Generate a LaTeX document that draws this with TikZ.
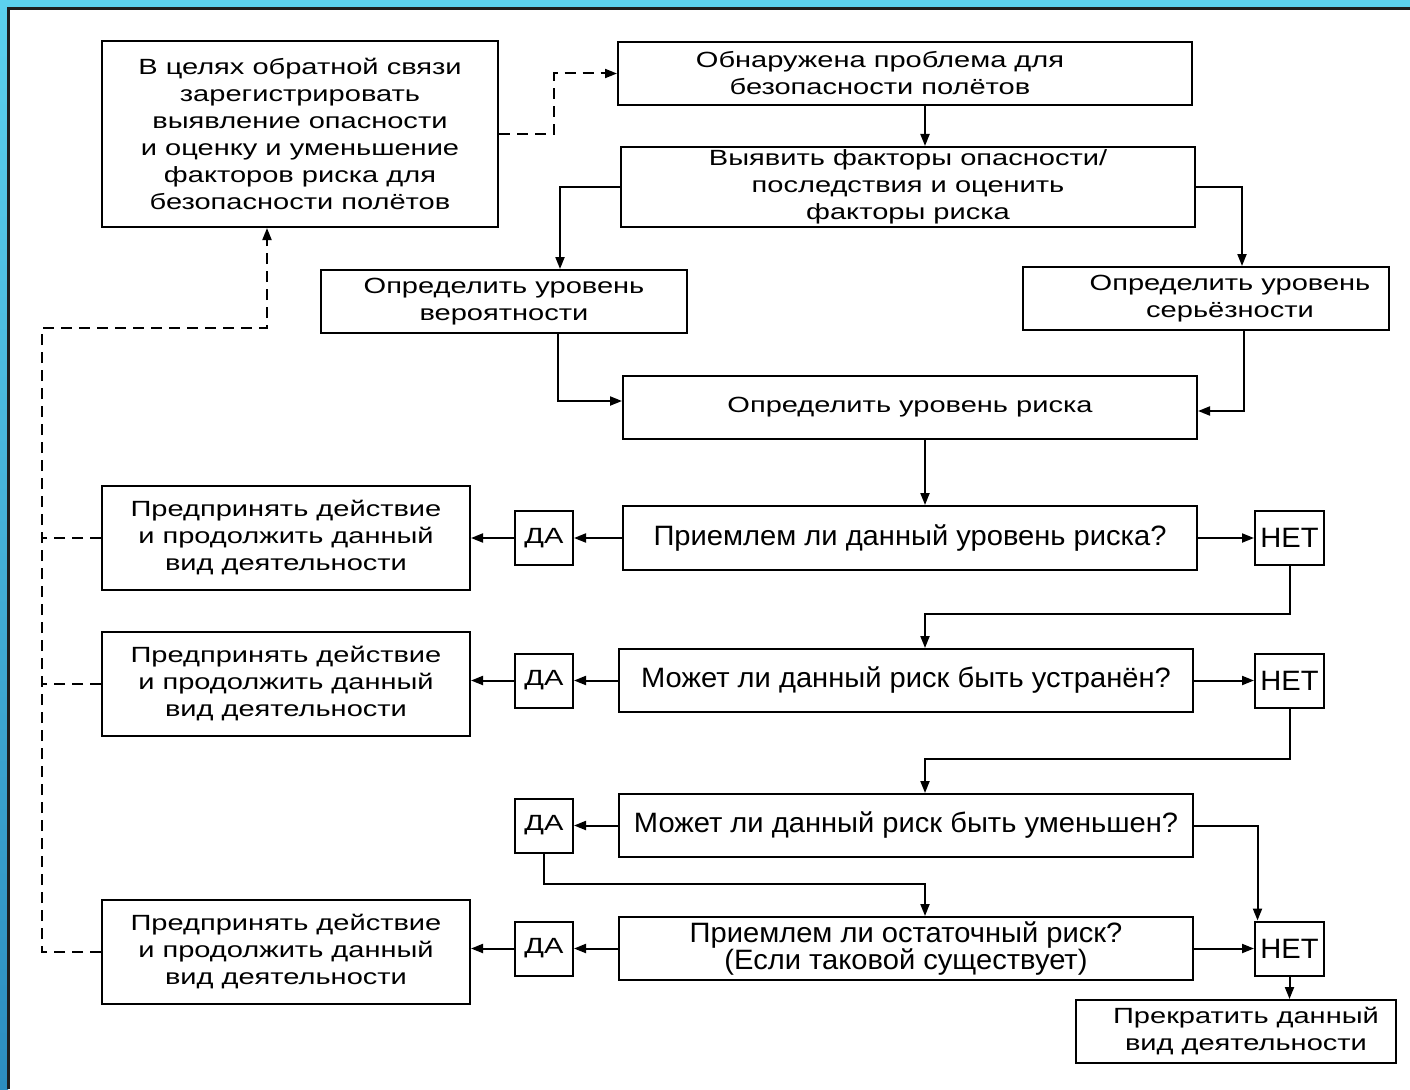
\documentclass[tikz,border=0pt]{standalone}
\usepackage{fontspec}
\setmainfont{Liberation Sans}[FakeStretch=1.32]
\newfontfamily\narrowfont[FakeStretch=1.04]{Liberation Sans}
\usetikzlibrary{positioning,arrows.meta,calc}
\definecolor{frameblue}{HTML}{5CD1EE}
\definecolor{framedeep}{HTML}{2C8DBF}
\definecolor{framedark}{HTML}{1E1E1E}

\begin{document}
\begin{tikzpicture}[x=1pt, y=-1pt,
          txt/.style={align=center, inner sep=0pt, font=\fontsize{22}{27}\selectfont},
          box/.style={txt, draw, line width=2pt},
          wide/.style={box, minimum width=574pt, minimum height=63pt},
          ask/.style={wide, font=\narrowfont\fontsize{28}{27}\selectfont},
          act/.style={box, minimum width=368pt, minimum height=104pt},
          yes/.style={box, minimum width=58pt, minimum height=54pt},
          no/.style={box, minimum width=69pt, minimum height=54pt, font=\narrowfont\fontsize{28}{27}\selectfont},
          arr/.style={-{Triangle[length=12pt,width=9pt]}, line width=2pt},
          dashln/.style={line width=2pt, dash pattern=on 11pt off 7pt},
          dasharr/.style={dashln, -{Triangle[length=12pt,width=9pt]}}
      ]
        \useasboundingbox (0,0) rectangle (1410,1089);
        \fill[white] (0,0) rectangle (1410,1089);
        \fill[frameblue] (0,0) rectangle (1410,7);
        \shade[top color=frameblue, bottom color=framedeep] (0,0) rectangle (8,1089);
        \draw[framedark, line width=3pt] (8.5,1089) -- (8.5,8.5) -- (1410,8.5);

        \coordinate (spine) at (925,0);
        \coordinate (rail) at (42,328);

        \node[box, minimum width=396pt, minimum height=186pt] (fb) at (300,134)
            {В целях обратной связи\\зарегистрировать\\выявление опасности\\и оценку и уменьшение\\факторов риска для\\безопасности полётов};
        \node[wide] (found) at (905,73.5) {};
        \node[txt] (foundtext) at ([xshift=-25pt]found.center) {Обнаружена проблема для\\безопасности полётов};
        \node[wide, minimum height=80pt] (ident) at (908,187) {Выявить факторы опасности/\\последствия и оценить\\факторы риска};
        \node[box, minimum width=366pt, minimum height=63pt] (prob) at (504,301.5) {Определить уровень\\вероятности};
        \node[box, minimum width=366pt, minimum height=63pt] (sev) at (1206,298.5) {};
        \node[txt] (sevtext) at ([xshift=24pt]sev.center) {Определить уровень\\серьёзности};
        \node[wide] (risk) at (910,407.5) {Определить уровень риска};

        \node[ask, minimum height=64pt] (q1) at (910,538) {Приемлем ли данный уровень риска?};
        \node[ask] (q2) at (906,680.5) {Может ли данный риск быть устранён?};
        \node[ask] (q3) at (906,825.5) {Может ли данный риск быть уменьшен?};
        \node[ask] (q4) at (906,948.5) {Приемлем ли остаточный риск?\\(Если таковой существует)};

        \node[yes, left=48pt of q1] (yes1) {ДА};
        \node[yes, left=44pt of q2] (yes2) {ДА};
        \node[yes, left=44pt of q3] (yes3) {ДА};
        \node[yes, left=44pt of q4] (yes4) {ДА};
        \node[no, right=56pt of q1] (no1) {НЕТ};
        \node[no, right=60pt of q2] (no2) {НЕТ};
        \node[no, right=60pt of q4] (no3) {НЕТ};

        \node[act] (go1) at (286,538) {Предпринять действие\\и продолжить данный\\вид деятельности};
        \node[act] (go2) at (286,683.5) {Предпринять действие\\и продолжить данный\\вид деятельности};
        \node[act] (go3) at (286,952) {Предпринять действие\\и продолжить данный\\вид деятельности};
        \node[box, minimum width=320pt, minimum height=63pt] (stop) at (1236,1031.5) {};
        \node[txt] (stoptext) at ([xshift=10pt]stop.center) {Прекратить данный\\вид деятельности};

        \draw[dasharr] (fb.east) -- ++(55,0) |- (found.west);
        \draw[arr] (spine |- found.south) -- (spine |- ident.north);
        \draw[arr] (ident.west) -| ([xshift=56pt]prob.north);
        \draw[arr] (ident.east) -| ([xshift=36pt]sev.north);
        \draw[arr] ([xshift=54pt]prob.south) |- ([yshift=6.5pt]risk.west);
        \draw[arr] ([xshift=38pt]sev.south) |- ([yshift=-3.5pt]risk.east);
        \draw[arr] (spine |- risk.south) -- (spine |- q1.north);

        \draw[arr] (q1.west) -- (yes1.east);
        \draw[arr] (yes1.west) -- (yes1.west -| go1.east);
        \draw[arr] (q1.east) -- (no1.west);
        \draw[arr] (no1.south) |- ($(spine |- q2.north)+(0,-34)$) -- (spine |- q2.north);

        \draw[arr] (q2.west) -- (yes2.east);
        \draw[arr] (yes2.west) -- (yes2.west -| go2.east);
        \draw[arr] (q2.east) -- (no2.west);
        \draw[arr] (no2.south) |- ($(spine |- q3.north)+(0,-34)$) -- (spine |- q3.north);

        \draw[arr] (q3.west) -- (yes3.east);
        \draw[arr] (q3.east) -| ([xshift=-32pt]no3.north);
        \draw[arr] (yes3.south) |- ($(spine |- q4.north)+(0,-32)$) -- (spine |- q4.north);

        \draw[arr] (q4.west) -- (yes4.east);
        \draw[arr] (yes4.west) -- (yes4.west -| go3.east);
        \draw[arr] (q4.east) -- (no3.west);
        \draw[arr] (no3.south) -- (no3.south |- stop.north);

        \draw[dashln] (go1.west) -- (go1.west -| rail);
        \draw[dashln] (go2.west) -- (go2.west -| rail);
        \draw[dasharr] (go3.west) -| (rail) -| ([xshift=-33pt]fb.south);
      \end{tikzpicture}
\end{document}
